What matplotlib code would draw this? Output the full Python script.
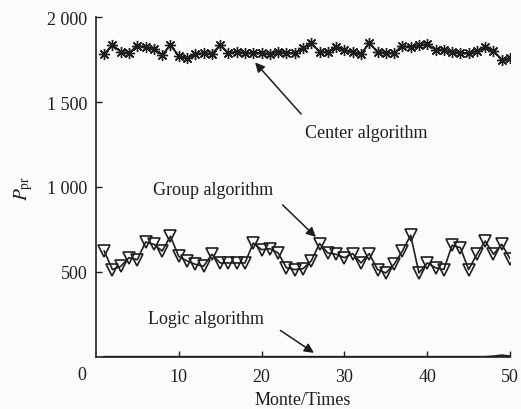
import numpy as np
import matplotlib
matplotlib.use("Agg")
import matplotlib.pyplot as plt

plt.rcParams['font.family'] = ['Liberation Serif', 'DejaVu Serif']
plt.rcParams['mathtext.fontset'] = 'stix'

# Monte Carlo run index
runs = list(range(1, 51))

# Center algorithm (stars)
center = [1782, 1835, 1796, 1788, 1831, 1822, 1812, 1776, 1835, 1772,
          1757, 1782, 1788, 1782, 1835, 1788, 1796, 1788, 1788, 1788,
          1782, 1796, 1788, 1788, 1816, 1845, 1796, 1796, 1822, 1808,
          1792, 1782, 1847, 1796, 1788, 1788, 1831, 1822, 1835, 1841,
          1808, 1808, 1796, 1788, 1788, 1800, 1822, 1800, 1749, 1757]

# Group algorithm (triangles)
group = [623, 514, 533, 584, 572, 676, 663, 623, 710, 592,
         565, 545, 533, 604, 553, 553, 553, 553, 670, 631,
         637, 612, 525, 514, 519, 565, 667, 612, 604, 584,
         608, 553, 608, 514, 494, 545, 623, 716, 494, 553,
         525, 514, 657, 643, 514, 604, 682, 604, 663, 578]

# Logic algorithm (flat line near zero)
logic = [0] * 47 + [3, 9, 3]

ytick_vals = [500, 1000, 1500, 2000]
ytick_text = ["500", "1 000", "1 500", "2 000"]
xtick_vals = [10, 20, 30, 40, 50]

fig = plt.figure(figsize=(5.21, 4.10), dpi=100, facecolor='#fbfbfb')
ax = fig.add_axes([0.184, 0.127, 0.795, 0.829])
ax.set_facecolor('#fbfbfb')

ink = '#1e1e1e'
ax.plot(runs, center, color=ink, lw=1.5, marker=(8, 2, 0), ms=8, mew=1.0, mec=ink)
ax.plot(runs, group, color=ink, lw=1.2, marker='v', ms=8.5, mfc='none', mew=1.2, mec=ink)
ax.plot(runs, logic, color=ink, lw=1.6)

ax.set_xlim(0, 50)
ax.set_ylim(0, 2000)
ax.set_xticks(xtick_vals)
ax.set_yticks(ytick_vals)
ax.set_yticklabels(ytick_text)
ax.tick_params(direction='in', length=4, width=1.0, labelsize=13, colors=ink, pad=6)
ax.tick_params(axis='x', pad=8)
for s in ['top', 'right']:
    ax.spines[s].set_visible(False)
for s in ['left', 'bottom']:
    ax.spines[s].set_linewidth(1.2)
    ax.spines[s].set_color(ink)

ax.annotate('0', xy=(0, 0), xycoords='axes fraction', xytext=(-10, -13),
            textcoords='offset points', ha='center', va='center', fontsize=13, color=ink)

ax.set_xlabel('Monte/Times', fontsize=13, color=ink, labelpad=4)
ax.set_ylabel(r'$P_{\rm pr}$', fontsize=14, color=ink, labelpad=9)

arrow = dict(arrowstyle='-|>', color=ink, lw=1.1, mutation_scale=14)
ax.annotate('', xy=(19.0, 1745), xytext=(25.0, 1417), arrowprops=arrow)
ax.text(25.2, 1323, 'Center algorithm', fontsize=13, color=ink, va='center', ha='left')
ax.annotate('', xy=(26.8, 694), xytext=(22.3, 906), arrowprops=arrow)
ax.text(6.9, 988, 'Group algorithm', fontsize=13, color=ink, va='center', ha='left')
ax.annotate('', xy=(26.6, 15), xytext=(22.0, 165), arrowprops=arrow)
ax.text(6.3, 229, 'Logic algorithm', fontsize=13, color=ink, va='center', ha='left')

fig.savefig('out.png', dpi=100, facecolor=fig.get_facecolor())
